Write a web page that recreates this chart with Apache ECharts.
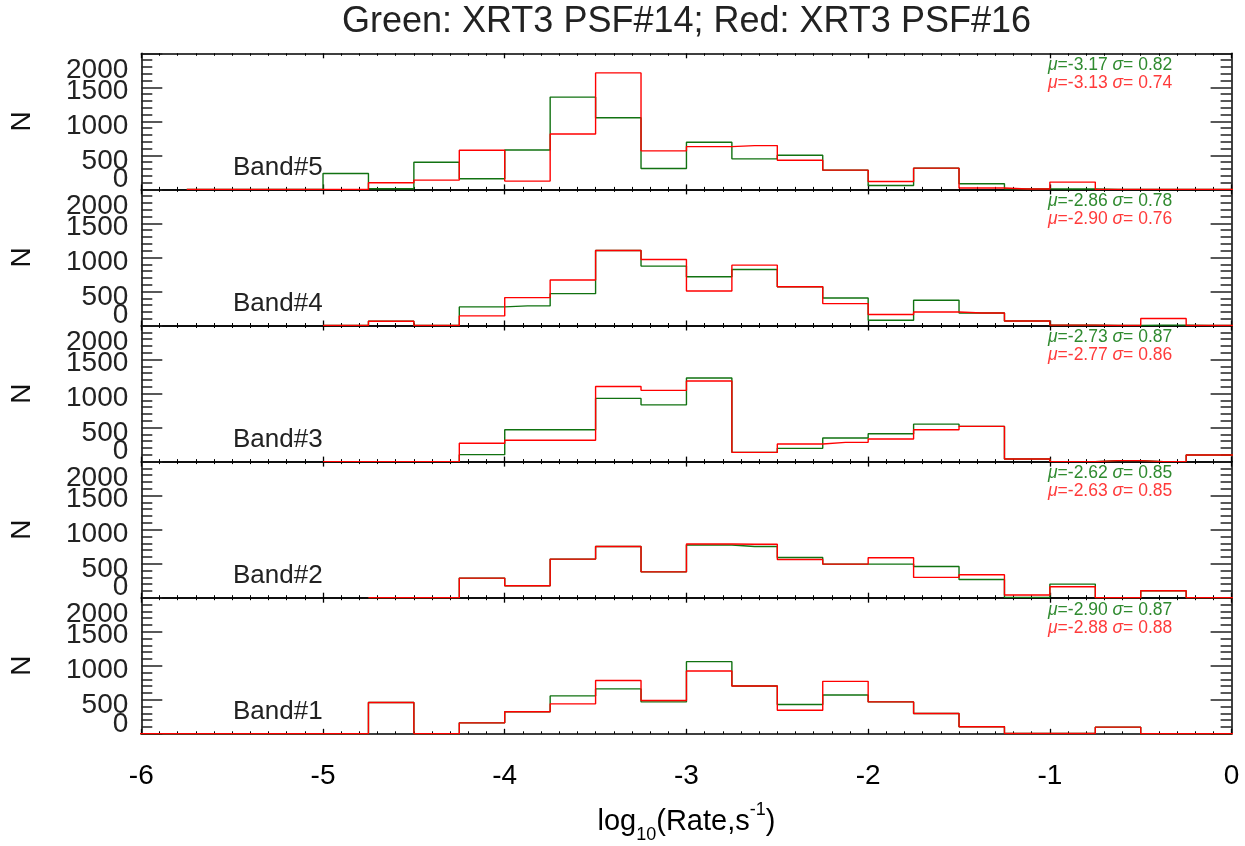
<!DOCTYPE html>
<html><head><meta charset="utf-8">
<script src="https://cdn.jsdelivr.net/npm/echarts@6.0.0/dist/echarts.min.js"></script>
<style>html,body{margin:0;padding:0;background:#fff}#c{width:1245px;height:846px}</style>
</head><body><div id="c"></div><script>
// ---- data ----
const titleText = 'Green: XRT3 PSF#14; Red: XRT3 PSF#16';
// histogram bin centres (0.25 wide), including one beyond each end of the axis
const binCenters = [-6.125,-5.875,-5.625,-5.375,-5.125,-4.875,-4.625,-4.375,-4.125,-3.875,-3.625,-3.375,-3.125,-2.875,-2.625,-2.375,-2.125,-1.875,-1.625,-1.375,-1.125,-0.875,-0.625,-0.375,-0.125,0.125];
const xTicks = [-6,-5,-4,-3,-2,-1,0];
const yTicks = [0,500,1000,1500,2000];
const bandNames = ['Band#5','Band#4','Band#3','Band#2','Band#1'];

const band5Green = [null,null,0,0,0,234,10,400,156,580,1356,1053,307,692,449,502,283,58,312,83,8,5,0,0,0,0];
const band5Red   = [null,null,0,0,0,0,98,137,575,122,815,1712,566,629,644,429,283,117,312,20,5,107,0,0,0,0];
const band4Green = [null,null,null,null,null,0,63,0,273,288,468,1102,873,717,824,570,404,78,370,184,67,5,0,5,0,0];
const band4Red   = [null,null,null,null,null,0,63,0,141,410,668,1102,970,506,887,570,322,161,199,184,67,5,0,102,0,0];
const band3Green = [null,null,null,null,null,0,0,0,102,469,469,929,834,1229,136,195,346,410,550,517,39,0,15,0,98,98];
const band3Red   = [null,null,null,null,null,0,0,0,269,313,313,1103,1047,1185,136,258,283,332,467,517,39,0,15,0,98,98];
const band2Green = [null,null,null,null,null,null,0,0,288,175,567,753,380,775,752,591,494,494,459,268,5,200,0,102,0,0];
const band2Red   = [null,null,null,null,null,null,0,0,288,175,567,753,380,790,785,562,494,586,298,337,39,161,0,102,0,0];
const band1Green = [0,0,0,0,0,0,460,0,161,323,557,660,469,1060,702,430,571,469,298,103,5,5,98,0,0,0];
const band1Red   = [0,0,0,0,0,0,460,0,161,323,440,783,489,922,702,347,771,469,298,103,5,5,98,0,0,0];

const greenSeries = [band5Green, band4Green, band3Green, band2Green, band1Green];
const redSeries   = [band5Red, band4Red, band3Red, band2Red, band1Red];
const statsGreen = [['-3.17','0.82'],['-2.86','0.78'],['-2.73','0.87'],['-2.62','0.85'],['-2.90','0.87']];
const statsRed   = [['-3.13','0.74'],['-2.90','0.76'],['-2.77','0.86'],['-2.63','0.85'],['-2.88','0.88']];

// ---- layout / style ----
const FONT = "'Liberation Sans', Arial, Helvetica, sans-serif";
const GL = 141.3, GR = 1231.6, GT = 53.3, GH = 136.1;
const LINE_GREEN = '#117211', LINE_RED = '#ff0000';
const TXT_GREEN = '#2f8a2f', TXT_RED = '#ff3a3a';
// tick-label nudges in pixels (upwards positive) to mimic the reference label placement
const yLabelShiftPx = [10, -6, -4.5, -3.5, -16.5];

const grids = [], xAxes = [], yAxes = [], series = [], graphics = [];
for (let i = 0; i < 5; i++) {
  const top = GT + GH * i;
  grids.push({left: GL, top: top, width: GR - GL, height: GH, outerBoundsMode: 'none', containLabel: false});
  const last = i === 4;
  const xBase = {
    type: 'value', gridIndex: i, min: xTicks[0], max: xTicks[xTicks.length-1], interval: 1,
    axisLine: {show: true, onZero: false, lineStyle: {color: '#000', width: 1.5}},
    axisTick: {show: true, inside: true, length: 5, lineStyle: {color: '#000', width: 1.3}},
    minorTick: {show: true, splitNumber: 10, length: 2.5, lineStyle: {color: '#000', width: 1}},
    splitLine: {show: false}, minorSplitLine: {show: false}
  };
  xAxes.push(Object.assign({}, xBase, {position: 'bottom',
    axisLabel: {show: last, margin: 28, fontSize: 28, color: '#000', fontFamily: FONT, hideOverlap: false}}));
  xAxes.push(Object.assign({}, xBase, {position: 'top', axisLabel: {show: false}}));
  const yBase = {
    type: 'value', gridIndex: i, min: yTicks[0], max: yTicks[yTicks.length-1], interval: 500,
    axisLine: {show: true, onZero: false, lineStyle: {color: '#000', width: 1.5}},
    axisTick: {show: true, inside: true, length: 21, lineStyle: {color: '#222', width: 1.5}},
    minorTick: {show: true, splitNumber: 5, length: 11, lineStyle: {color: '#222', width: 1.5}},
    splitLine: {show: false}, minorSplitLine: {show: false}, axisLabel: {show: false}
  };
  yAxes.push(Object.assign({}, yBase, {position: 'left'}));
  yAxes.push(Object.assign({}, yBase, {position: 'right'}));

  const mk = (vals, color, name) => ({
    type: 'line', name: name, xAxisIndex: 2*i, yAxisIndex: 2*i, step: 'middle',
    showSymbol: false, symbol: 'none', clip: true, connectNulls: false,
    lineStyle: {color: color, width: 1.4}, itemStyle: {color: color},
    data: binCenters.map((c, j) => [c, vals[j]])
  });
  series.push(mk(greenSeries[i], LINE_GREEN, 'PSF#14 ' + bandNames[i]));
  series.push(mk(redSeries[i], LINE_RED, 'PSF#16 ' + bandNames[i]));

  graphics.push({type: 'text', x: 22, y: top + GH/2, rotation: Math.PI/2,
    style: {text: 'N', font: '28px ' + FONT, fill: '#111', align: 'center', verticalAlign: 'middle', textAlign: 'center', textVerticalAlign: 'middle'}});
  graphics.push({type: 'text', x: 233, y: top + GH - 22,
    style: {text: bandNames[i], font: '26px ' + FONT, fill: '#222', align: 'left', verticalAlign: 'middle', textAlign: 'left', textVerticalAlign: 'middle'}});
  const statRich = col => ({
    g: {fontFamily: FONT, fontSize: 17.5, fontStyle: 'italic', color: col},
    n: {fontFamily: FONT, fontSize: 17.5, color: col}
  });
  graphics.push({type: 'text', x: 1048, y: top + 12,
    style: {text: '{g|μ}{n|=' + statsGreen[i][0] + ' }{g|σ}{n|= ' + statsGreen[i][1] + '}', rich: statRich(TXT_GREEN),
      font: '17.5px ' + FONT, fill: TXT_GREEN, align: 'left', verticalAlign: 'middle', textAlign: 'left', textVerticalAlign: 'middle'}});
  graphics.push({type: 'text', x: 1048, y: top + 30,
    style: {text: '{g|μ}{n|=' + statsRed[i][0] + ' }{g|σ}{n|= ' + statsRed[i][1] + '}', rich: statRich(TXT_RED),
      font: '17.5px ' + FONT, fill: TXT_RED, align: 'left', verticalAlign: 'middle', textAlign: 'left', textVerticalAlign: 'middle'}});
}
graphics.push({type: 'text', x: (GL + GR) / 2, y: 22,
  style: {text: titleText, font: '36px ' + FONT, fill: '#222', align: 'center', verticalAlign: 'middle', textAlign: 'center', textVerticalAlign: 'middle'}});
graphics.push({type: 'text', x: (GL + GR) / 2, y: 822,
  style: {text: '{m|log}{sub|10}{m|(Rate,s}{sup|-1}{m|)}',
    rich: {m: {fontFamily: FONT, fontSize: 29, color: '#333', lineHeight: 42},
           sub: {fontFamily: FONT, fontSize: 18, color: '#333', verticalAlign: 'top', lineHeight: 18, padding: [25,0,0,0]},
           sup: {fontFamily: FONT, fontSize: 18, color: '#333', verticalAlign: 'top', lineHeight: 18}},
    align: 'center', verticalAlign: 'middle', textAlign: 'center', textVerticalAlign: 'middle'}});

const chart = echarts.init(document.getElementById('c'), null, {renderer: 'canvas'});
chart.setOption({
  animation: false, backgroundColor: '#fff',
  grid: grids, xAxis: xAxes, yAxis: yAxes, series: series, graphic: graphics
});

// y tick labels placed through each panel's own y scale
const yLabelGraphics = [];
for (let i = 0; i < 5; i++) {
  yTicks.forEach((v, k) => {
    const py = chart.convertToPixel({yAxisIndex: 2*i}, v) - yLabelShiftPx[k];
    yLabelGraphics.push({type: 'text', x: GL - 13, y: py,
      style: {text: String(v), font: '28px ' + FONT, fill: '#222', align: 'right', verticalAlign: 'middle', textAlign: 'right', textVerticalAlign: 'middle'}});
  });
}
chart.setOption({graphic: graphics.concat(yLabelGraphics)});
</script></body></html>
